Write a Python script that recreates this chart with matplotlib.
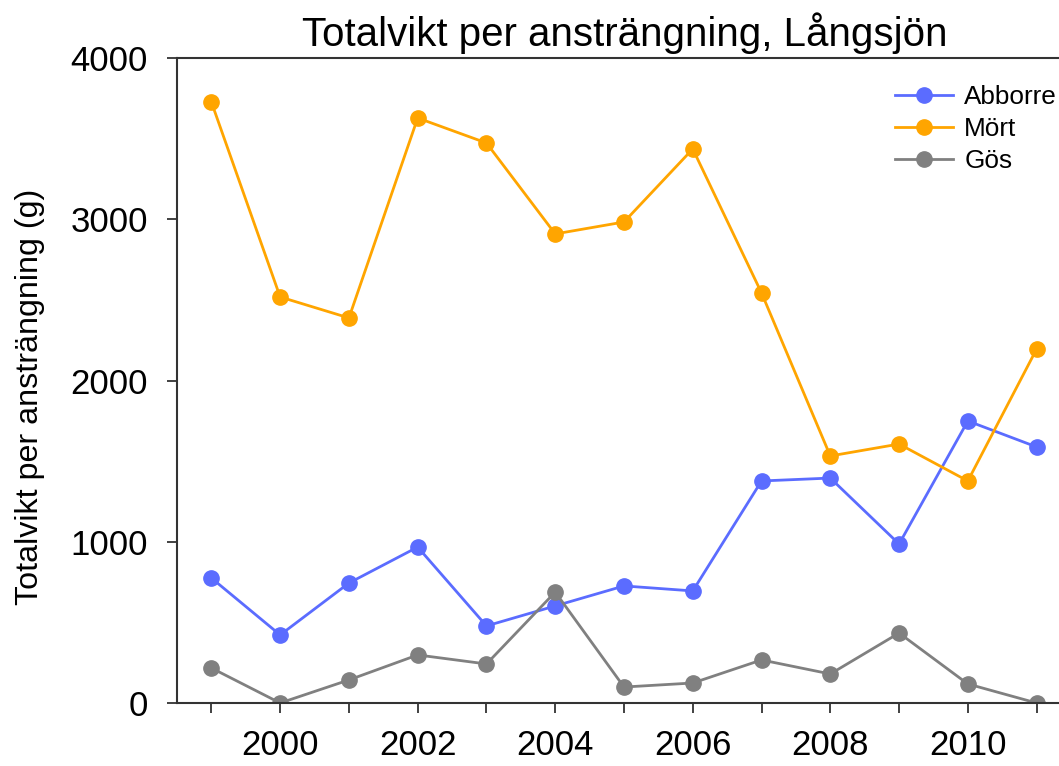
import numpy as np
import matplotlib
matplotlib.use("Agg")
import matplotlib.pyplot as plt

years = [1999, 2000, 2001, 2002, 2003, 2004, 2005, 2006, 2007, 2008, 2009, 2010, 2011]
abborre = [775, 422, 744, 967, 478, 602, 726, 695, 1377, 1395, 986, 1749, 1588]
mort = [3727, 2518, 2388, 3628, 3473, 2909, 2983, 3436, 2543, 1532, 1606, 1377, 2195]
gos = [217, 0, 143, 298, 242, 688, 99, 124, 267, 180, 434, 118, 0]
year_labels = [str(y) if y % 2 == 0 else '' for y in years]

plt.rcParams['font.family'] = ['Liberation Sans', 'DejaVu Sans']

fig = plt.figure(figsize=(10.59, 7.66), dpi=100)
ax = fig.add_axes([177 / 1059, 63 / 766, (1071 - 177) / 1059, (703 - 58) / 766])

ax.plot(years, abborre, color='#5b6cff', marker='o', markersize=11, linewidth=2, label='Abborre')
ax.plot(years, mort, color='#ffa500', marker='o', markersize=11, linewidth=2, label='Mört')
ax.plot(years, gos, color='#808080', marker='o', markersize=11, linewidth=2, label='Gös')

ax.set_xlim(1998.5, 2011.5)
ax.set_ylim(0, 4000)
ax.set_xticks(years)
ax.set_xticklabels(year_labels)
ax.set_yticks([0, 1000, 2000, 3000, 4000])

for s in ax.spines.values():
    s.set_linewidth(1.5)
    s.set_color('#333333')

ax.tick_params(axis='both', direction='out', length=7, width=1.3, color='#333333', labelsize=25)
ax.tick_params(axis='x', pad=12)
ax.tick_params(axis='y', pad=14)

# y-axis label sits a bit below the axes centre in the original
fig.text(30 / 1059, 1 - 397 / 766, 'Totalvikt per ansträngning (g)', fontsize=23.2,
         rotation=90, ha='center', va='center')
fig.text(625 / 1059, 1 - 33 / 766, 'Totalvikt per ansträngning, Långsjön', fontsize=29,
         ha='center', va='center')

fig.legend(loc='upper left', bbox_to_anchor=(882 / 1059, 1 - 72 / 766), frameon=False,
           fontsize=18.8, handlelength=2.2, labelspacing=0.3, borderpad=0, handletextpad=0.45)

fig.savefig('out.png', dpi=100)
